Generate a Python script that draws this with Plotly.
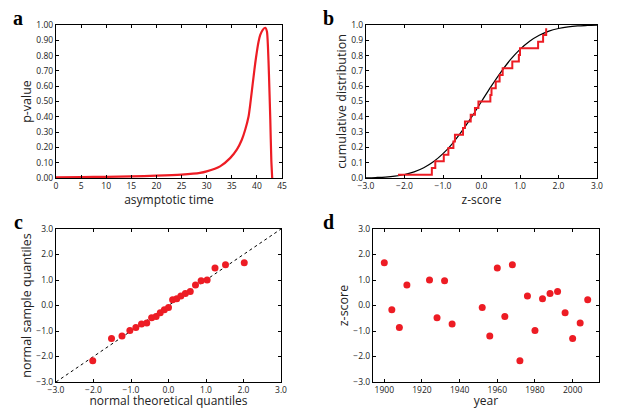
import plotly.graph_objects as go

# ---- Panel a: p-value vs asymptotic time
time_a = [0, 5, 10, 15, 20, 25, 28.67, 30, 32.67, 34.67, 36.0, 37.0, 37.67, 38.33, 38.67,
          39.0, 39.33, 39.67, 40.0, 40.33, 40.67, 41.2, 41.67, 42.0, 42.2, 42.4, 42.67, 42.87, 43.05]
pval_a = [0.005, 0.006, 0.008, 0.011, 0.015, 0.022, 0.033, 0.043, 0.076, 0.13, 0.185, 0.25, 0.315, 0.40, 0.48,
          0.57, 0.66, 0.75, 0.826, 0.89, 0.935, 0.97, 0.982, 0.957, 0.86, 0.68, 0.38, 0.12, 0.0]

# ---- Olympic years and z-scores (panel d)
years = [1900, 1904, 1908, 1912, 1924, 1928, 1932, 1936, 1952, 1956, 1960, 1964,
         1968, 1972, 1976, 1980, 1984, 1988, 1992, 1996, 2000, 2004, 2008]
zscore = [1.68, -0.17, -0.86, 0.80, 1.00, -0.48, 0.97, -0.73, -0.08, -1.20, 1.47, -0.43,
          1.60, -2.17, 0.37, -0.98, 0.26, 0.47, 0.55, -0.28, -1.29, -0.69, 0.23]

# ---- Panel b: empirical cumulative distribution (step) and normal CDF
ecdf_y = [0.022, 0.065, 0.109, 0.152, 0.196, 0.239, 0.283, 0.326, 0.370, 0.413, 0.457, 0.500,
          0.543, 0.587, 0.630, 0.674, 0.717, 0.761, 0.804, 0.848, 0.891, 0.935, 0.978]
cdf_x = [-3, -2.75, -2.5, -2.25, -2, -1.75, -1.5, -1.25, -1, -0.75, -0.5, -0.25, 0,
         0.25, 0.5, 0.75, 1, 1.25, 1.5, 1.75, 2, 2.25, 2.5, 2.75, 3]
cdf_y = [0.001, 0.003, 0.006, 0.012, 0.023, 0.040, 0.067, 0.106, 0.159, 0.227, 0.309, 0.401, 0.5,
         0.599, 0.691, 0.773, 0.841, 0.894, 0.933, 0.960, 0.977, 0.988, 0.994, 0.997, 0.999]

# ---- Panel c: normal theoretical quantiles
theo_q = [-2.02, -1.52, -1.24, -1.03, -0.87, -0.72, -0.58, -0.45, -0.33, -0.22, -0.11, 0.0,
          0.11, 0.22, 0.33, 0.45, 0.58, 0.72, 0.87, 1.03, 1.24, 1.52, 2.02]
ref_line = [-3, 3]

sorted_z = sorted(zscore)

RED = "rgb(237,28,36)"
FONT = "Open Sans"
OFF = 8                      # page body margin of the browser
W, H = 619 - OFF, 409 - OFF  # figure size that fits the window

fig = go.Figure()

fig.add_trace(go.Scatter(x=time_a, y=pval_a, mode="lines", line=dict(color=RED, width=2.2, shape="spline", smoothing=0.6),
                         xaxis="x", yaxis="y", showlegend=False))
fig.add_trace(go.Scatter(x=cdf_x, y=cdf_y, mode="lines", line=dict(color="black", width=1.2, shape="spline"),
                         xaxis="x2", yaxis="y2", showlegend=False))
fig.add_trace(go.Scatter(x=sorted_z, y=ecdf_y, mode="lines", line=dict(color=RED, width=2, shape="hv"),
                         xaxis="x2", yaxis="y2", showlegend=False))
fig.add_trace(go.Scatter(x=ref_line, y=ref_line, mode="lines", line=dict(color="black", width=1, dash="dot"),
                         xaxis="x3", yaxis="y3", showlegend=False))
fig.add_trace(go.Scatter(x=theo_q, y=sorted_z, mode="markers", marker=dict(color=RED, size=7),
                         xaxis="x3", yaxis="y3", showlegend=False))
fig.add_trace(go.Scatter(x=years, y=zscore, mode="markers", marker=dict(color=RED, size=7),
                         xaxis="x4", yaxis="y4", showlegend=False))

def px_x(a, b):
    return [(a - OFF) / W, (b - OFF) / W]

def px_y(top, bottom):
    return [1 - (bottom - OFF) / H, 1 - (top - OFF) / H]

axis_common = dict(showline=True, linecolor="black", linewidth=1.2, mirror="ticks", ticks="inside",
                   ticklen=3, tickwidth=1, tickcolor="black", showgrid=False, zeroline=False,
                   automargin=False, tickfont=dict(family=FONT, size=8.5, color="#222"))
xt_font = dict(family=FONT, size=12, color="#222")
yt_font = dict(family=FONT, size=12.5, color="#222")

fig.update_layout(
    width=W, height=H, margin=dict(l=0, r=0, t=0, b=0, autoexpand=False),
    paper_bgcolor="white", plot_bgcolor="white",
    xaxis=dict(domain=px_x(56, 282), anchor="y", range=[0, 45], tickvals=list(range(0, 46, 5)),
               title=dict(text="asymptotic time", font=xt_font, standoff=1), **axis_common),
    yaxis=dict(domain=px_y(25, 178), anchor="x", range=[0, 1], tickvals=[i / 10 for i in range(11)],
               tickformat=".2f", title=dict(text="p-value", font=yt_font, standoff=1), **axis_common),
    xaxis2=dict(domain=px_x(366, 597), anchor="y2", range=[-3, 3], tickvals=[-3, -2, -1, 0, 1, 2, 3],
                tickformat=".1f", title=dict(text="z-score", font=xt_font, standoff=1), **axis_common),
    yaxis2=dict(domain=px_y(25, 178), anchor="x2", range=[0, 1], tickvals=[i / 10 for i in range(11)],
                tickformat=".1f", title=dict(text="cumulative distribution", font=yt_font, standoff=1), **axis_common),
    xaxis3=dict(domain=px_x(56, 281), anchor="y3", range=[-3, 3], tickvals=[-3, -2, -1, 0, 1, 2, 3],
                tickformat=".1f", title=dict(text="normal theoretical quantiles", font=xt_font, standoff=2), **axis_common),
    yaxis3=dict(domain=px_y(229, 382), anchor="x3", range=[-3, 3], tickvals=[-3, -2, -1, 0, 1, 2, 3],
                tickformat=".1f", title=dict(text="normal sample quantiles", font=yt_font, standoff=1), **axis_common),
    xaxis4=dict(domain=px_x(373, 599), anchor="y4", range=[1894, 2014], tickvals=[1900, 1920, 1940, 1960, 1980, 2000],
                title=dict(text="year", font=xt_font, standoff=2), **axis_common),
    yaxis4=dict(domain=px_y(229, 382), anchor="x4", range=[-3, 3], tickvals=[-3, -2, -1, 0, 1, 2, 3],
                tickformat=".1f", title=dict(text="z-score", font=yt_font, standoff=1), **axis_common),
)

letters = [("a", 18, 18), ("b", 328, 18), ("c", 18, 222), ("d", 328, 222)]
for txt, xp, yp in letters:
    fig.add_annotation(text=txt, x=(xp - OFF) / W, y=1 - (yp - OFF) / H, xref="paper", yref="paper", showarrow=False,
                       xanchor="center", yanchor="middle",
                       font=dict(family="Liberation Serif", size=20, color="black", weight="bold"))

fig.write_html("out.html")
